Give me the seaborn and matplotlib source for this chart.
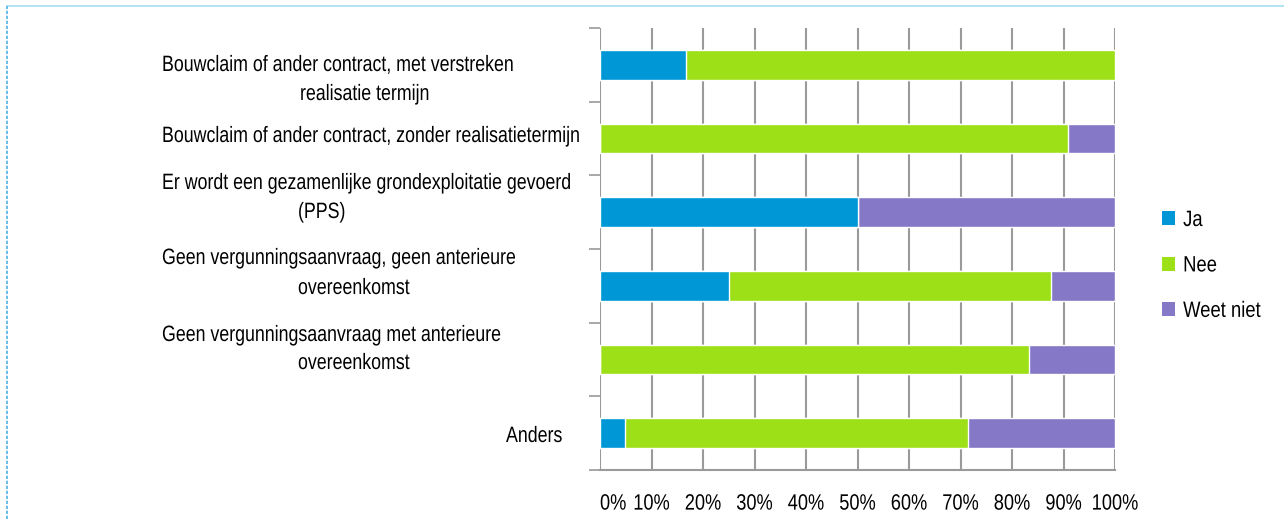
import numpy as np
import pandas as pd
import matplotlib
matplotlib.use("Agg")
import matplotlib.pyplot as plt
from matplotlib.patches import Patch
from matplotlib.lines import Line2D
from matplotlib.patheffects import AbstractPathEffect
from matplotlib.transforms import Affine2D
import seaborn as sns

# chart data (percent of answers)
categories = [
    "Bouwclaim of ander contract, met verstreken\nrealisatie termijn",
    "Bouwclaim of ander contract, zonder realisatietermijn",
    "Er wordt een gezamenlijke grondexploitatie gevoerd\n(PPS)",
    "Geen vergunningsaanvraag, geen anterieure\novereenkomst",
    "Geen vergunningsaanvraag met anterieure\novereenkomst",
    "Anders",
]
ja = [16.7, 0, 50, 25, 0, 4.8]
nee = [83.3, 90.9, 0, 62.5, 83.3, 66.6]
weet_niet = [0, 9.1, 50, 12.5, 16.7, 28.6]
series_names = ["Ja", "Nee", "Weet niet"]
x_ticks = list(range(0, 101, 10))
x_labels = [f"{t}%" for t in x_ticks]

colors = {"Ja": "#0097d7", "Nee": "#9de017", "Weet niet": "#8578c7"}
grid_col = "#9a9a9a"
text_col = "#000000"


# the original uses a condensed typeface; squeeze the text horizontally
class Squeeze(AbstractPathEffect):
    def __init__(self, sx=0.8, anchor="left"):
        super().__init__()
        self.sx = sx
        self.anchor = anchor

    def draw_path(self, renderer, gc, tpath, affine, rgbFace=None):
        if self.anchor == "center":
            ext = tpath.get_extents(affine)
            x0 = (ext.x0 + ext.x1) / 2
        else:
            x0 = affine.get_matrix()[0, 2]
        sq = Affine2D().translate(-x0, 0).scale(self.sx, 1).translate(x0, 0)
        renderer.draw_path(gc, tpath, affine + sq, rgbFace)


sns.set_style("white")
plt.rcParams["font.family"] = ["Liberation Sans", "DejaVu Sans"]

W, H = 1284, 519
fig = plt.figure(figsize=(W / 100, H / 100), dpi=100)
ax = fig.add_axes([600 / W, 1 - 470 / H, 515 / W, 442 / H])

df = pd.DataFrame({"cat": categories, "Ja": ja, "Nee": nee, "Weet niet": weet_niet})
df["c_ja"] = df["Ja"]
df["c_nee"] = df["Ja"] + df["Nee"]
df["c_weet"] = df["c_nee"] + df["Weet niet"]

# stacked bars: draw the cumulative totals from the largest down
for col, name in [("c_weet", "Weet niet"), ("c_nee", "Nee"), ("c_ja", "Ja")]:
    sns.barplot(data=df, x=col, y="cat", color=colors[name], width=0.4,
                orient="h", saturation=1, ax=ax, zorder=3)

ax.set_xlim(0, 100)
ax.set_ylim(5.5, -0.5)
ax.set_xlabel("")
ax.set_ylabel("")
ax.set_xticks(x_ticks)
ax.set_xticklabels(x_labels, fontsize=16, color=text_col)
for i, t in enumerate(ax.get_xticklabels()):
    if i == 0:
        t.set_ha("left")
        t.set_path_effects([Squeeze(0.82, "left")])
    else:
        t.set_path_effects([Squeeze(0.82, "center")])
ax.set_yticks(np.arange(-0.5, 6, 1))
ax.set_yticklabels([])
ax.tick_params(axis="x", length=8, width=1.2, color=grid_col, pad=9, direction="out")
ax.tick_params(axis="y", length=8, width=1.2, color=grid_col, left=True, direction="out")
ax.grid(axis="x", color=grid_col, linewidth=1.5)
ax.grid(axis="y", visible=False)
ax.set_axisbelow(True)
for s in ["top", "right", "left"]:
    ax.spines[s].set_visible(False)
ax.spines["bottom"].set_color(grid_col)
ax.spines["bottom"].set_linewidth(1.5)

# category labels, one text per line (pixel layout)
line_pos = [
    [(162, 71), (300, 100)],
    [(162, 142)],
    [(162, 189), (298, 218)],
    [(162, 264), (298, 294)],
    [(162, 341), (298, 369)],
    [(506, 442)],
]
for cat, pos in zip(categories, line_pos):
    for txt, (px, py) in zip(cat.split("\n"), pos):
        fig.text(px / W, 1 - py / H, txt, ha="left", va="baseline",
                 fontsize=16, color=text_col,
                 path_effects=[Squeeze(0.8, "left")])

handles = [Patch(facecolor=colors[n], edgecolor="none") for n in series_names]
leg = fig.legend(handles, series_names, loc="upper left",
                 bbox_to_anchor=(1162 / W, 1 - 210 / H), frameon=False,
                 fontsize=16, handlelength=0.6, handleheight=0.6,
                 handletextpad=0.35, labelspacing=1.1, borderpad=0, borderaxespad=0)
for t in leg.get_texts():
    t.set_color(text_col)
    t.set_path_effects([Squeeze(0.83, "left")])

# light blue frame at top and left
fig.add_artist(Line2D([7 / W, 1], [1 - 6 / H, 1 - 6 / H], color="#a6def5",
                      linewidth=1.2, transform=fig.transFigure))
fig.add_artist(Line2D([7 / W, 7 / W], [0, 1 - 6 / H], color="#4fb3e6",
                      linewidth=1.2, linestyle=(0, (2, 1)), transform=fig.transFigure))

fig.savefig("out.png", dpi=100)
